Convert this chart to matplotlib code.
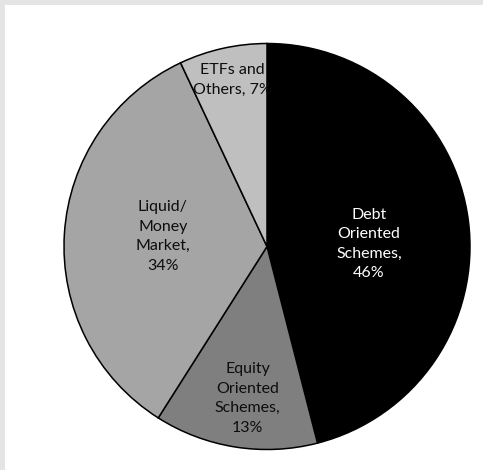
import matplotlib
matplotlib.use("Agg")
import matplotlib.pyplot as plt
from matplotlib.patches import Rectangle
import numpy as np

# Asset allocation shares (percent)
categories = ["Debt Oriented Schemes", "Equity Oriented Schemes", "Liquid/Money Market", "ETFs and Others"]
shares = [46, 13, 34, 7]
label_texts = ["Debt\nOriented\nSchemes,\n46%", "Equity\nOriented\nSchemes,\n13%",
               "Liquid/\nMoney\nMarket,\n34%", "ETFs and\nOthers, 7%"]
slice_colors = ["#000000", "#7f7f7f", "#a5a5a5", "#bfbfbf"]
text_colors = ["#ffffff", "#0d0d0d", "#0d0d0d", "#0d0d0d"]
# label placement: distance from centre (fraction of radius) and angular nudge (deg)
label_radius = [0.502, 0.755, 0.515, 0.838]
label_nudge = [-5.8, 1.8, -1.9, -0.7]

W, H = 483, 470
fig = plt.figure(figsize=(W / 100, H / 100), dpi=100)
fig.patch.set_facecolor("white")

# thin grey frame along the top and left edges
fig.patches.append(Rectangle((0, 1 - 4.5 / H), 1, 4.5 / H, transform=fig.transFigure,
                             facecolor="#e4e4e4", edgecolor="none"))
fig.patches.append(Rectangle((0, 0), 4.5 / W, 1, transform=fig.transFigure,
                             facecolor="#e4e4e4", edgecolor="none"))

cx, cy, r = 267, 246.5, 203
ax = fig.add_axes([(cx - r) / W, (H - cy - r) / H, 2 * r / W, 2 * r / H])
wedges, _ = ax.pie(shares, colors=slice_colors, startangle=90, counterclock=False,
                   radius=1.0, wedgeprops=dict(edgecolor="black", linewidth=1.1))
ax.set_xlim(-1, 1)
ax.set_ylim(-1, 1)
ax.set_aspect("equal")
ax.axis("off")

for w, txt, tc, lr, nd in zip(wedges, label_texts, text_colors, label_radius, label_nudge):
    ang = np.deg2rad((w.theta1 + w.theta2) / 2 + nd)
    ax.text(lr * np.cos(ang), lr * np.sin(ang), txt, ha="center", va="center",
            color=tc, fontsize=11.5, family=["Lato", "DejaVu Sans"], linespacing=1.5,
            zorder=1.5)

fig.savefig("out.png", dpi=100)
